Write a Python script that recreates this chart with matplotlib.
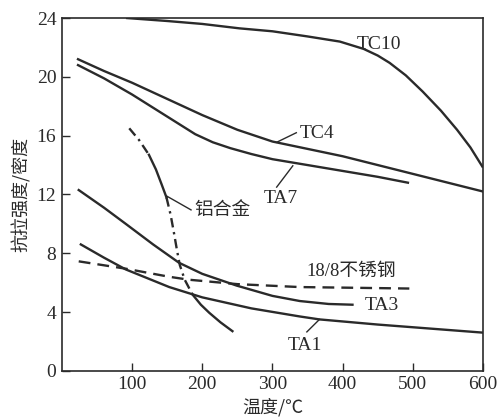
import matplotlib
matplotlib.use("Agg")
import matplotlib.pyplot as plt

plt.rcParams['font.family'] = ['Liberation Serif', 'Noto Sans CJK SC', 'DejaVu Sans']

# ---- data ----
tc10_x = [93, 150, 200, 253, 300, 350, 396, 430, 450, 467, 490, 514, 540, 563, 582, 599]
tc10_y = [24.0, 23.8, 23.6, 23.3, 23.1, 22.75, 22.4, 21.9, 21.45, 20.95, 20.1, 19.0, 17.7, 16.4, 15.2, 13.9]

tc4_x = [23, 60, 100, 150, 200, 250, 300, 350, 400, 450, 500, 550, 600]
tc4_y = [21.2, 20.4, 19.6, 18.5, 17.4, 16.4, 15.6, 15.1, 14.6, 14.0, 13.4, 12.8, 12.2]

ta7_x = [23, 60, 100, 150, 190, 215, 240, 270, 300, 350, 400, 450, 493]
ta7_y = [20.8, 19.9, 18.8, 17.3, 16.1, 15.55, 15.15, 14.75, 14.4, 14.0, 13.6, 13.2, 12.8]

ta3_x = [24, 60, 91, 130, 167, 200, 249, 300, 339, 380, 414]
ta3_y = [12.3, 11.1, 10.0, 8.6, 7.35, 6.6, 5.8, 5.1, 4.75, 4.55, 4.5]

ta1_x = [27, 60, 91, 153, 200, 270, 339, 367, 450, 600]
ta1_y = [8.6, 7.7, 6.9, 5.7, 5.0, 4.25, 3.7, 3.5, 3.15, 2.6]

ss_x = [24, 91, 153, 181, 250, 339, 420, 495]
ss_y = [7.45, 6.95, 6.4, 6.2, 5.9, 5.7, 5.65, 5.6]

al_x = [96, 110, 124, 134, 142, 149, 155, 160, 164, 168, 175, 186, 198, 210, 226, 243]
al_y = [16.5, 15.7, 14.7, 13.7, 12.7, 11.8, 10.6, 9.3, 8.2, 7.2, 6.2, 5.2, 4.5, 3.95, 3.3, 2.7]

xticks = [100, 200, 300, 400, 500, 600]
yticks = [0, 4, 8, 12, 16, 20, 24]

# ---- figure ----
fig = plt.figure(figsize=(4.99, 4.20), dpi=100)
ax = fig.add_axes([0.124, 0.117, 0.844, 0.840])

c = '#2a2a2a'
lw = 1.7
ax.plot(tc10_x, tc10_y, color=c, lw=lw)
ax.plot(tc4_x, tc4_y, color=c, lw=lw)
ax.plot(ta7_x, ta7_y, color=c, lw=lw)
ax.plot(ta3_x, ta3_y, color=c, lw=lw)
ax.plot(ta1_x, ta1_y, color=c, lw=lw)
ax.plot(ss_x, ss_y, color=c, lw=lw, linestyle=(0, (5, 3)))

dashdot = (0, (4, 2, 1, 2))
ax.plot(al_x[0:3], al_y[0:3], color=c, lw=lw, linestyle=dashdot)
ax.plot(al_x[2:6], al_y[2:6], color=c, lw=lw)
ax.plot(al_x[5:12], al_y[5:12], color=c, lw=lw, linestyle=dashdot)
ax.plot(al_x[11:], al_y[11:], color=c, lw=lw)

fs = 14
cjk = ['Noto Sans CJK SC', 'DejaVu Sans']
# labels
ax.text(420, 22.2, 'TC10', fontsize=fs, va='center', ha='left', color=c)
ax.text(339, 16.15, 'TC4', fontsize=fs, va='center', ha='left', color=c)
ax.plot([306, 334], [15.55, 16.2], color=c, lw=1.0)
ax.text(287, 11.7, 'TA7', fontsize=fs, va='center', ha='left', color=c)
ax.plot([329, 306], [13.95, 12.5], color=c, lw=1.0)
ax.text(189, 11.0, '铝合金', fontsize=13.5, va='center', ha='left', color=c, family=cjk)
ax.plot([149, 184], [11.9, 10.95], color=c, lw=1.0)
ax.text(349, 6.75, '18/8不锈钢', fontsize=13.5, va='center', ha='left', color=c)
ax.text(432, 4.45, 'TA3', fontsize=fs, va='center', ha='left', color=c)
ax.text(346, 1.7, 'TA1', fontsize=fs, va='center', ha='center', color=c)
ax.plot([349, 367], [2.65, 3.5], color=c, lw=1.0)

ax.set_xlim(0, 600)
ax.set_ylim(0, 24)
ax.set_xticks(xticks)
ax.set_yticks(yticks)
ax.tick_params(direction='in', length=6, width=1.0, labelsize=fs, colors=c, pad=4)
for s in ax.spines.values():
    s.set_linewidth(1.2)
    s.set_color(c)

ax.set_xlabel('温度/℃', fontsize=13, color=c, family=cjk, labelpad=3)
ax.set_ylabel('抗拉强度/密度', fontsize=13, color=c, family=cjk, labelpad=4)

fig.savefig('out.png', dpi=100, facecolor='white')
